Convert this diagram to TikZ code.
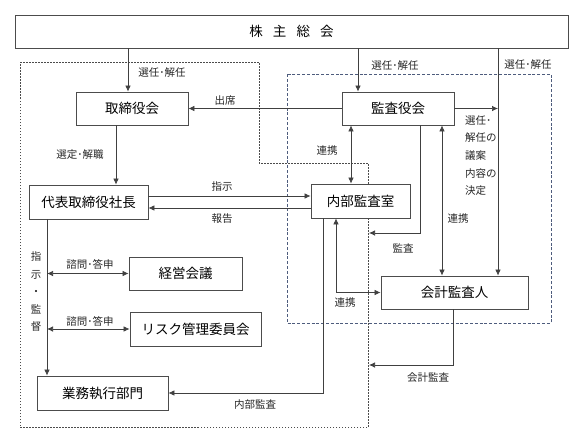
\documentclass[tikz,border=0pt]{standalone}
\usepackage{fontspec}
\setmainfont{Noto Sans CJK JP}
\usepackage{tikz}
\usetikzlibrary{calc, positioning, arrows.meta, backgrounds}
\definecolor{regionblue}{RGB}{78,92,125}
\tikzstyle{box}=[draw=black!70, fill=white, line width=0.8pt, font=\fontsize{13.5}{16}\selectfont, inner sep=0pt]
\tikzstyle{lbl}=[font=\fontsize{10.5}{12}\selectfont, inner sep=1pt, text=black!85]
\tikzstyle{con}=[draw=black!75, line width=0.7pt]
\tikzset{>={Latex[length=6pt, width=5.5pt]}}

\begin{document}
\begin{tikzpicture}[x=1pt, y=-1pt]
\useasboundingbox (0,0) rectangle (586,445);
% the regions
\draw[black!70, line width=0.6pt, dash pattern=on 1.5pt off 1.5pt] (20,62) -- (259,62) -- (259,163) -- (368,163) -- (368,427) -- (20,427) -- cycle;
\draw[regionblue, line width=0.8pt, dash pattern=on 3pt off 1.8pt] (287,74) rectangle (551,323);
% the boxes
\node[box, minimum width=553, minimum height=33] (sokai) at (291.5,31.5) {株\hspace{0.75em}主\hspace{0.75em}総\hspace{0.75em}会};
\node[box, minimum width=112, minimum height=33] (torishimari) at (132,108.5) {取締役会};
\node[box, minimum width=112, minimum height=33] (kansa) at (398,108.5) {監査役会};
\node[box, minimum width=119, minimum height=34] (daihyo) at (88.5,202) {代表取締役社長};
\node[box, minimum width=99, minimum height=34] (naibu) at (360.5,201) {内部監査室};
\node[box, minimum width=113, minimum height=33] (keiei) at (185.5,273.5) {経営会議};
\node[box, minimum width=131, minimum height=34] (risk) at (195.5,329) {リスク管理委員会};
\node[box, minimum width=131, minimum height=34] (gyomu) at (102.5,393) {業務執行部門};
\node[box, minimum width=147, minimum height=33] (kaikei) at (454.5,292.5) {会計監査人};
% the free ends
\coordinate (selk) at (498,0);
\coordinate (shiji) at (47,0);
\coordinate (kansaend) at (369,233);
\coordinate (kaikeiend) at (369,365);
% the arrows
\draw[con, ->] ([xshift=-4]torishimari.north |- sokai.south) -- ([xshift=-4]torishimari.north);
\draw[con, ->] ([xshift=-40]kansa.north |- sokai.south) -- ([xshift=-40]kansa.north);
\draw[con, ->] (selk |- sokai.south) -- (selk |- kaikei.north);
\draw[con, ->] (kansa.east) -- (kansa.east -| selk);
\draw[con, ->] (kansa.west) -- (torishimari.east);
\draw[con, ->] ([xshift=-16]torishimari.south) -- ([xshift=-16]torishimari.south |- daihyo.north);
\draw[con, ->] ([yshift=6]daihyo.east) -- ([yshift=6]daihyo.east -| naibu.west);
\draw[con, ->] ([yshift=-7]naibu.west) -- ([yshift=-7]naibu.west -| daihyo.east);
\draw[con, <->] ([xshift=-47]kansa.south) -- ([xshift=-47]kansa.south |- naibu.north);
\draw[con, <->] ([xshift=44]kansa.south) -- ([xshift=44]kansa.south |- kaikei.north);
\draw[con, ->] ([xshift=22]kansa.south) |- (kansaend);
\draw[con, <->] ([xshift=-24.5]naibu.south) |- (kaikei.west);
\draw[con, ->] ([xshift=-37.5]naibu.south) |- (gyomu.east);
\draw[con, ->] ([xshift=-1.5]kaikei.south) |- (kaikeiend);
\draw[con, ->] (shiji |- daihyo.south) -- (shiji |- gyomu.north);
\draw[con, <->] (shiji |- keiei.west) -- (keiei.west);
\draw[con, <->] (shiji |- risk.west) -- (risk.west);
% the labels
\node[lbl] (l1) at (162,73) {選任･解任};
\node[lbl] (l2) at (395,66) {選任･解任};
\node[lbl] (l3) at (528,65) {選任･解任};
\node[lbl, anchor=west, align=left, font=\fontsize{10.5}{17.7}\selectfont] (l4) at (464,155.5) {選任･\\解任の\\議案\\内容の\\決定};
\node[lbl] (l5) at (225,101) {出席};
\node[lbl] (l6) at (80,155) {選定･解職};
\node[lbl] (l7) at (222,187) {指示};
\node[lbl] (l8) at (222,219) {報告};
\node[lbl] (l9) at (327,151) {連携};
\node[lbl] (l10) at (458,219) {連携};
\node[lbl] (l11) at (403,248) {監査};
\node[lbl] (l12) at (345,303) {連携};
\node[lbl] (l13) at (255,405) {内部監査};
\node[lbl] (l14) at (428,378) {会計監査};
\node[lbl, align=center, font=\fontsize{10.5}{17.5}\selectfont] (l15) at (36,292) {指\\示\\・\\監\\督};
\node[lbl] (l16) at (90,264) {諮問･答申};
\node[lbl] (l17) at (90,321) {諮問･答申};
\end{tikzpicture}
\end{document}
